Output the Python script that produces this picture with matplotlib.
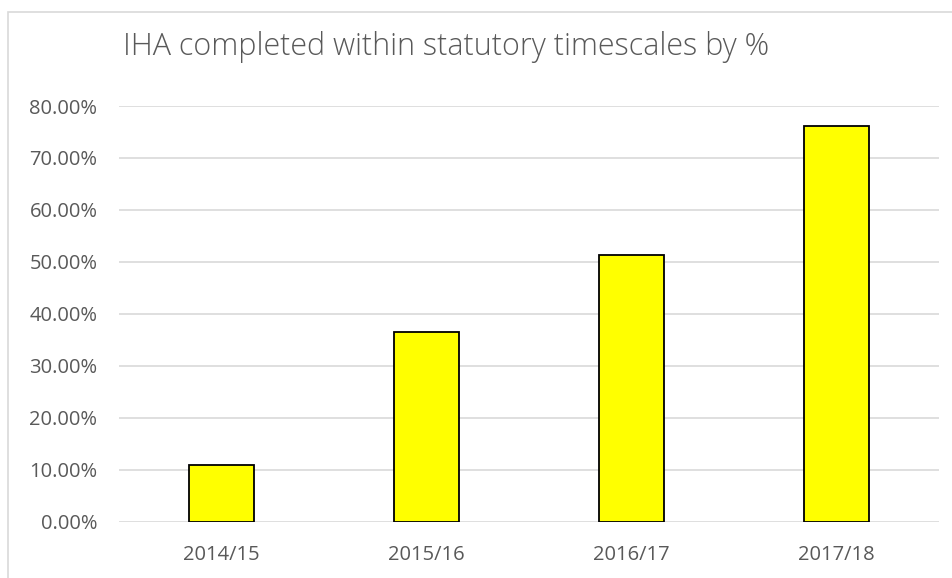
import matplotlib.pyplot as plt
from matplotlib.patches import Rectangle
from matplotlib.ticker import FuncFormatter

years = ["2014/15", "2015/16", "2016/17", "2017/18"]
pct_completed = [0.1085, 0.366, 0.513, 0.7615]
y_ticks = [0.0, 0.1, 0.2, 0.3, 0.4, 0.5, 0.6, 0.7, 0.8]

plt.rcParams['font.family'] = ['Open Sans', 'DejaVu Sans']
text_col = '#595959'

fig = plt.figure(figsize=(9.52, 5.78), dpi=100)
ax = fig.add_axes([119 / 952, 1 - 521.7 / 578, 820 / 952, 415.7 / 578])

# chart border (right and bottom edges fall outside the picture)
fig.patches.append(Rectangle((8 / 952, -0.1), 1.2, 1 - 12 / 578 + 0.1,
                             transform=fig.transFigure, fill=False,
                             edgecolor='#d9d9d9', linewidth=1.2))

x = range(len(years))
ax.bar(x, pct_completed, width=0.32, color='#ffff00', edgecolor='black',
       linewidth=1.3, zorder=3)

ax.set_xlim(-0.5, len(years) - 0.5)
ax.set_ylim(0, 0.8)
ax.set_yticks(y_ticks)
ax.yaxis.set_major_formatter(FuncFormatter(lambda v, p: f"{v * 100:.2f}%"))
ax.set_xticks(list(x))
ax.set_xticklabels(years)
ax.grid(axis='y', color='#d9d9d9', linewidth=1.2, zorder=0)
for s in ax.spines.values():
    s.set_visible(False)
ax.tick_params(length=0, labelsize=14.5, labelcolor=text_col)
ax.tick_params(axis='y', pad=15.5)
ax.tick_params(axis='x', pad=17)

fig.text(446 / 952, 1 - 47 / 578, "IHA completed within statutory timescales by %",
         ha='center', va='center', fontsize=22, color=text_col, fontweight='light')

fig.savefig('out.png', dpi=100)
